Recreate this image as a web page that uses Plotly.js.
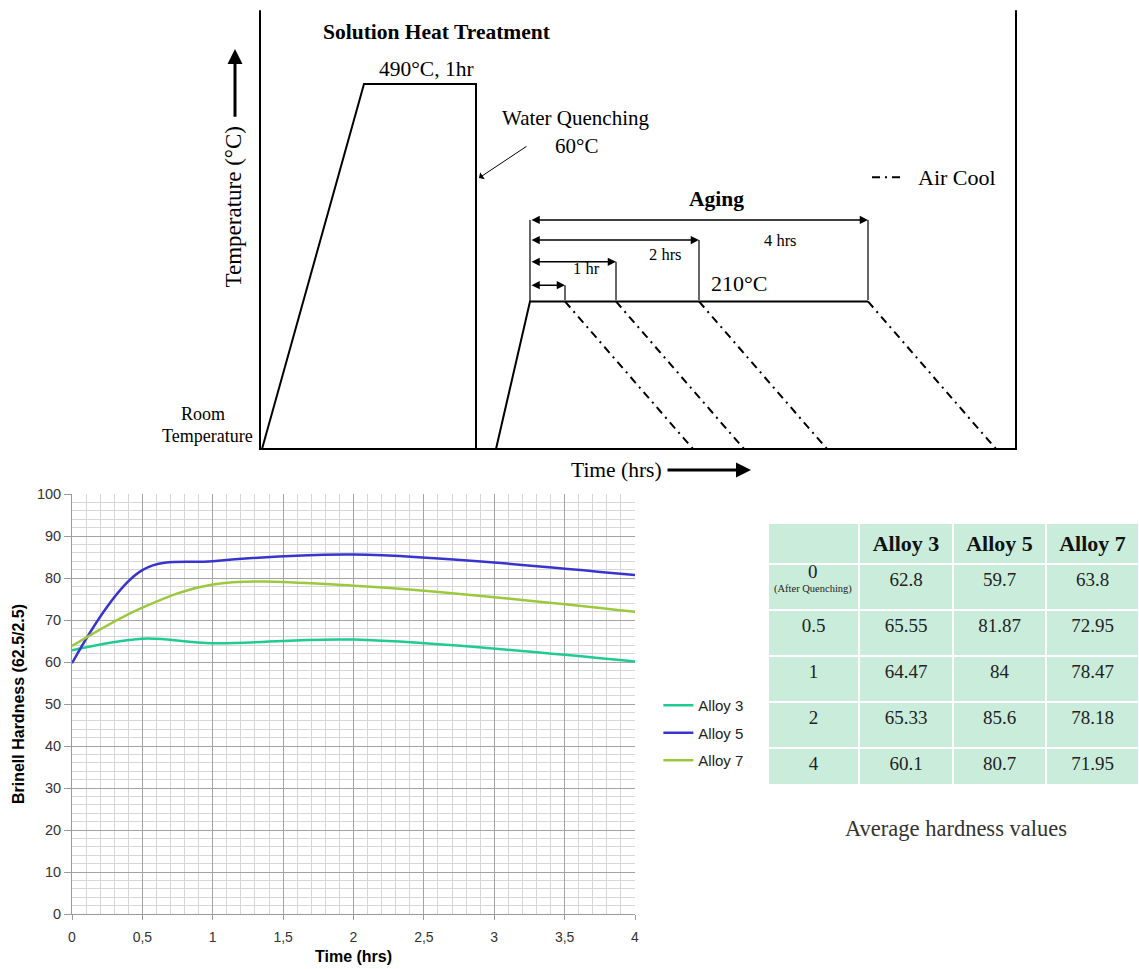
<!DOCTYPE html>
<html>
<head>
<meta charset="utf-8">
<script src="https://cdn.plot.ly/plotly-3.0.1.min.js"></script>
<style>
  html, body { margin: 0; padding: 0; background: #ffffff; }
  #chart { width: 1139px; height: 969px; }
</style>
</head>
<body>
<div id="chart"></div>
<script>
// ---- Hardness measurements ----
const agingTime = [0, 0.5, 1, 2, 4];
const timeLabels = ['0', '0.5', '1', '2', '4'];
const firstRowNote = '(After Quenching)';
const alloyNames = ['Alloy 3', 'Alloy 5', 'Alloy 7'];
const alloy3 = [62.8, 65.55, 64.47, 65.33, 60.1];
const alloy5 = [59.7, 81.87, 84, 85.6, 80.7];
const alloy7 = [63.8, 72.95, 78.47, 78.18, 71.95];
const alloyColors = ['#1fcb8e', '#3a34cf', '#9cc83e'];

// ---- Heat-treatment schematic (time in diagram units, temperature in °C) ----
const roomTemp = 20;
const solutionTemp = 490;
const agingTemp = 210;
const frameTop = 585;
const frameRight = 756;
const solutionTime = [2, 104, 216, 216];
const solutionLevel = [roomTemp, solutionTemp, solutionTemp, roomTemp];
const agingTimeAxis = [236, 270, 608];
const agingLevel = [roomTemp, agingTemp, agingTemp];
const agingStart = 270;
const agingEnds = [305, 356, 439, 608];          // 0.5, 1, 2, 4 hrs
const agingSpanLabels = ['', '1 hr', '2 hrs', '4 hrs'];
const coolRun = 128;

const serif = 'Liberation Serif, Times New Roman, serif';
const sans = 'Liberation Sans, Arial, sans-serif';

const traces = [];

// hardness curves
const series = [alloy3, alloy5, alloy7];
series.forEach((vals, i) => {
  traces.push({
    type: 'scatter', mode: 'lines',
    x: agingTime, y: vals, name: alloyNames[i],
    legendgroup: 'g' + i,
    line: { color: alloyColors[i], width: 2.5, shape: 'spline', smoothing: 1 },
    xaxis: 'x', yaxis: 'y', hoverinfo: 'x+y+name'
  });
});

// schematic drawing
const black = { color: '#000', width: 2 };
function seg(x, y, line) {
  traces.push({ type: 'scatter', mode: 'lines', x: x, y: y, line: line,
    xaxis: 'x2', yaxis: 'y2', showlegend: false, hoverinfo: 'skip' });
}
// frame: temperature axis, time axis, right border
seg([0, 0, frameRight, frameRight], [frameTop, roomTemp, roomTemp, frameTop], black);
// solution treatment + quench
seg(solutionTime, solutionLevel, black);
// aging ramp and hold
seg(agingTimeAxis, agingLevel, black);
// air cooling lines
const dashDot = { color: '#000', width: 2, dash: '8px,5px,2px,5px' };
agingEnds.forEach(t => seg([t, t + coolRun], [agingTemp, roomTemp], dashDot));
// air cool key
seg([612, 643], [370, 370], dashDot);

// dimension levels for the hold-time arrows
const dimLevels = [231, 261, 289, 315];
const dimLine = { color: '#000', width: 1.2 };
seg([agingStart, agingStart], [agingTemp, dimLevels[3]], dimLine);
agingEnds.forEach((t, i) => seg([t, t], [agingTemp + 2, dimLevels[i]], dimLine));

// table of averages; the first row label is written separately with its note
const cellCols = [timeLabels.map((t, i) => (i === 0 ? '' : t)),
  alloy3.map(String), alloy5.map(String), alloy7.map(String)];
traces.push({
  type: 'table',
  domain: { x: [768 / 1139, 1], y: [1 - 785 / 969, 1 - 523 / 969] },
  columnwidth: [91, 94, 93, 93],
  header: {
    values: ['', '<b>Alloy 3</b>', '<b>Alloy 5</b>', '<b>Alloy 7</b>'],
    fill: { color: '#caeddb' },
    line: { color: '#ffffff', width: 2 },
    font: { family: serif, size: 22, color: '#111' },
    align: 'center', height: 31
  },
  cells: {
    values: cellCols,
    fill: { color: '#caeddb' },
    line: { color: '#ffffff', width: 2 },
    font: { family: serif, size: 19, color: '#222' },
    align: 'center', height: 46
  }
});

const annotations = [];
function txt(x, y, text, size, extra) {
  annotations.push(Object.assign({
    xref: 'x2', yref: 'y2', x: x, y: y, text: text, showarrow: false,
    xanchor: 'center', yanchor: 'middle',
    font: { family: serif, size: size, color: '#000' }
  }, extra || {}));
}
txt(177, 557, '<b>Solution Heat Treatment</b>', 21.5);
txt(166, 509, '490°C, 1hr', 21.5);
txt(316, 446, 'Water Quenching', 21);
txt(316, 410, '60°C', 21);
txt(456, 342, '<b>Aging</b>', 21.5);
txt(479, 233, '210°C', 22);
txt(697, 370, 'Air Cool', 22);
txt(-57, 65, 'Room', 18);
txt(-53, 37, 'Temperature', 18);
txt(356, -7, 'Time (hrs)', 21.5);
txt(-27, 331, 'Temperature (°C)', 23, { textangle: -90 });
// hold-time labels
const spanLabelPos = [null, [326, 252], [405, 271], [520, 289]];
agingSpanLabels.forEach((s, i) => {
  if (s) txt(spanLabelPos[i][0], spanLabelPos[i][1], s, 16.5);
});
// double-headed dimension arrows
agingEnds.forEach((t, i) => {
  annotations.push({
    xref: 'x2', yref: 'y2', axref: 'x2', ayref: 'y2',
    x: t, y: dimLevels[i], ax: agingStart, ay: dimLevels[i],
    text: '', showarrow: true, arrowside: 'end+start',
    arrowhead: 2, arrowsize: 1.1, arrowwidth: 1.5, arrowcolor: '#000'
  });
});
// quench pointer
annotations.push({
  xref: 'x2', yref: 'y2', axref: 'x2', ayref: 'y2',
  x: 219, y: 369, ax: 268, ay: 411, text: '', showarrow: true,
  arrowhead: 1, arrowsize: 1.4, arrowwidth: 1, arrowcolor: '#000'
});
// temperature direction arrow
annotations.push({
  xref: 'x2', yref: 'y2', axref: 'x2', ayref: 'y2',
  x: -25, y: 535, ax: -25, ay: 446, text: '', showarrow: true,
  arrowhead: 2, arrowsize: 1, arrowwidth: 3, arrowcolor: '#000'
});
// time direction arrow
annotations.push({
  xref: 'x2', yref: 'y2', axref: 'x2', ayref: 'y2',
  x: 491, y: -7, ax: 406, ay: -7, text: '', showarrow: true,
  arrowhead: 2, arrowsize: 1, arrowwidth: 3, arrowcolor: '#000'
});
// first row label of the table and its note
annotations.push({
  xref: 'paper', yref: 'paper', x: 813 / 1139, y: 1 - 571 / 969,
  xanchor: 'center', yanchor: 'middle',
  text: timeLabels[0], showarrow: false,
  font: { family: serif, size: 19, color: '#222' }
});
annotations.push({
  xref: 'paper', yref: 'paper', x: 813 / 1139, y: 1 - 589 / 969,
  xanchor: 'center', yanchor: 'middle',
  text: firstRowNote, showarrow: false,
  font: { family: serif, size: 10.5, color: '#222' }
});
// caption under the table
annotations.push({
  xref: 'paper', yref: 'paper', x: 956 / 1139, y: 1 - 828 / 969,
  xanchor: 'center', yanchor: 'middle',
  text: 'Average hardness values', showarrow: false,
  font: { family: serif, size: 22.5, color: '#333' }
});

const layout = {
  width: 1139, height: 969,
  margin: { l: 0, r: 0, t: 0, b: 0 },
  paper_bgcolor: '#ffffff', plot_bgcolor: '#ffffff',
  separators: ', ',
  font: { family: sans, size: 13, color: '#333' },
  showlegend: true,
  legend: {
    x: 0.578, y: 1 - 689 / 969, xanchor: 'left', yanchor: 'top',
    font: { family: sans, size: 15, color: '#222' },
    bgcolor: 'rgba(0,0,0,0)', tracegroupgap: 5, itemwidth: 30
  },
  xaxis: {
    domain: [72 / 1139, 635 / 1139], anchor: 'y',
    range: [0, 4], dtick: 0.5, tick0: 0,
    showgrid: true, gridcolor: '#a3a3a3', gridwidth: 1,
    minor: { dtick: 0.1, showgrid: true, gridcolor: '#d6d6d6', gridwidth: 1 },
    showline: true, linecolor: '#9a9a9a', linewidth: 1,
    ticks: 'outside', ticklen: 5, tickcolor: '#9a9a9a',
    ticklabelstandoff: 5,
    zeroline: false,
    tickfont: { family: sans, size: 14, color: '#333' },
    title: { text: '<b>Time (hrs)</b>', font: { family: sans, size: 16, color: '#000' }, standoff: 7 }
  },
  yaxis: {
    domain: [1 - 914 / 969, 1 - 494 / 969], anchor: 'x',
    range: [0, 100], dtick: 10,
    showgrid: true, gridcolor: '#a3a3a3', gridwidth: 1,
    minor: { dtick: 2, showgrid: true, gridcolor: '#d6d6d6', gridwidth: 1 },
    showline: true, linecolor: '#9a9a9a', linewidth: 1,
    ticks: 'outside', ticklen: 7, tickcolor: '#9a9a9a',
    zeroline: false,
    tickfont: { family: sans, size: 14.5, color: '#333' },
    title: { text: '<b>Brinell Hardness (62.5/2.5)</b>', font: { family: sans, size: 16, color: '#000' }, standoff: 8 }
  },
  xaxis2: {
    domain: [0, 1], anchor: 'y2', range: [-260, 879], visible: false, fixedrange: true
  },
  yaxis2: {
    domain: [1 - 490 / 969, 1], anchor: 'x2', range: [-32.8, 598.2], visible: false, fixedrange: true
  },
  annotations: annotations
};

Plotly.newPlot('chart', traces, layout, { staticPlot: true, displayModeBar: false });
</script>
</body>
</html>
